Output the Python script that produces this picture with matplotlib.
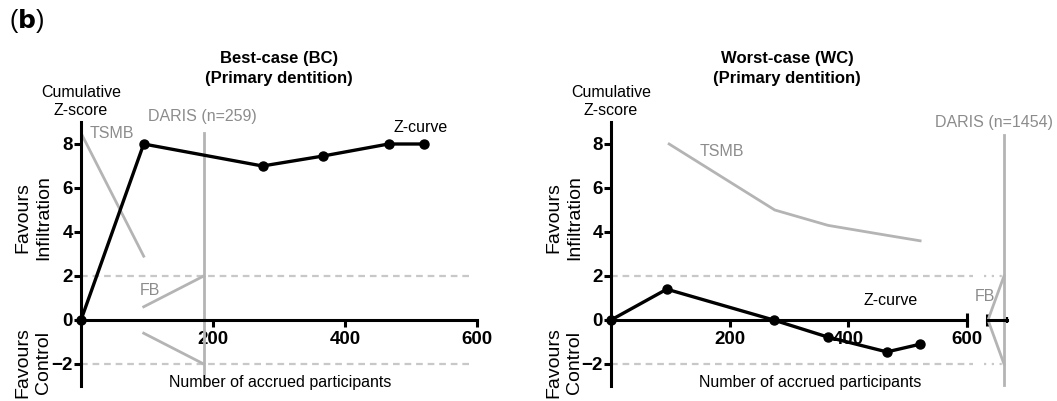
import numpy as np
import matplotlib
matplotlib.use("Agg")
import matplotlib.pyplot as plt

plt.rcParams['font.family'] = ['Liberation Sans', 'DejaVu Sans']

# ---- data ----
# Best-case (BC)
bc_z_x = [0, 95, 275, 366, 466, 520]
bc_z_y = [0, 8.0, 7.0, 7.45, 8.0, 8.0]
bc_tsmb_x = [0, 95]
bc_tsmb_y = [8.5, 2.9]
bc_fb_x = [95, 186]
bc_fb_up = [0.6, 2.0]
bc_fb_lo = [-0.6, -2.0]
bc_daris = 186

# Worst-case (WC)
wc_z_x = [0, 94, 274, 366, 465, 521]
wc_z_y = [0, 1.4, 0.0, -0.78, -1.45, -1.1]
wc_tsmb_x = [98, 276, 366, 465, 521]
wc_tsmb_y = [8.0, 5.0, 4.3, 3.85, 3.6]
wc_fb_x = [1422, 1454]
wc_fb_up = [0.0, 2.0]
wc_fb_lo = [0.0, -2.0]
wc_daris = 1454

xticks = [200, 400, 600]
yticks = [-2, 0, 2, 4, 6, 8]

W, H = 1057, 401
fig = plt.figure(figsize=(W / 100, H / 100), dpi=100)

GRAY = '#b4b4b4'
TGRAY = '#8c8c8c'
DASH = '#c8c8c8'
FS = 11.5      # normal annotation text
TICK_FS = 13.5


def px_axes(x0, x1, y0, y1):
    # pixel box (top-left origin) -> figure axes
    return fig.add_axes([x0 / W, 1 - y1 / H, (x1 - x0) / W, (y1 - y0) / H])


def style(ax, xmax):
    ax.set_xlim(0, xmax)
    ax.set_ylim(-3, 9)
    for s in ['top', 'right']:
        ax.spines[s].set_visible(False)
    ax.spines['bottom'].set_position(('data', 0))
    for s in ['left', 'bottom']:
        ax.spines[s].set_linewidth(2.2)
    ax.set_xticks(xticks)
    ax.set_yticks(yticks)
    ax.tick_params(axis='both', width=2.2, length=5, labelsize=TICK_FS)
    ax.tick_params(axis='x', pad=3)
    ax.tick_params(axis='y', pad=1)
    for t in ax.get_xticklabels() + ax.get_yticklabels():
        t.set_fontweight('bold')
    ax.patch.set_visible(False)
    ax.text(0, 1.015, 'Cumulative\nZ-score', transform=ax.transAxes,
            ha='center', va='bottom', fontsize=FS, linespacing=1.25)


def side_labels(xc):
    fig.text(xc / W, 1 - 218 / H, 'Favours\nInfiltration', rotation=90,
             ha='center', va='center', fontsize=14, linespacing=1.3)
    fig.text(xc / W, 1 - 363 / H, 'Favours\nControl', rotation=90,
             ha='center', va='center', fontsize=14, linespacing=1.3)


def titles(xc, first):
    fig.text(xc / W, 1 - 58 / H, first, ha='center', va='center',
             fontsize=12, fontweight='bold')
    fig.text(xc / W, 1 - 78 / H, '(Primary dentition)', ha='center', va='center',
             fontsize=12, fontweight='bold')


fig.text(9 / W, 1 - 21 / H, r'($\mathbf{b}$)', fontsize=18, va='center')

# ---------------- left panel ----------------
ax1 = px_axes(81, 477, 122, 386)
style(ax1, 600)
ax1.plot([0, 590], [2, 2], ls=(0, (3, 2.2)), color=DASH, lw=1.6, zorder=1)
ax1.plot([0, 590], [-2, -2], ls=(0, (3, 2.2)), color=DASH, lw=1.6, zorder=1)
ax1.plot(bc_tsmb_x, bc_tsmb_y, color=GRAY, lw=2)
ax1.plot(bc_fb_x, bc_fb_up, color=GRAY, lw=2)
ax1.plot(bc_fb_x, bc_fb_lo, color=GRAY, lw=2)
ax1.plot([bc_daris, bc_daris], [-3, 8.5], color=GRAY, lw=2)
ax1.plot(bc_z_x, bc_z_y, color='black', lw=2.4, marker='o', ms=6.5, clip_on=False, zorder=5)
ax1.text(13, 8.5, 'TSMB', color=TGRAY, fontsize=FS, va='center')
ax1.text(101, 9.23, 'DARIS (n=259)', color=TGRAY, fontsize=FS, va='center')
ax1.text(89, 1.36, 'FB', color=TGRAY, fontsize=FS, va='center')
ax1.text(515, 8.73, 'Z-curve', color='black', fontsize=FS, va='center', ha='center')
fig.text(280 / W, 1 - 383 / H, 'Number of accrued participants', fontsize=FS,
         ha='center', va='center')
titles(279, 'Best-case (BC)')
side_labels(33)

# ---------------- right panel ----------------
ax2 = px_axes(611, 967, 122, 386)
style(ax2, 600)
ax2.plot([0, 610], [2, 2], ls=(0, (3, 2.2)), color=DASH, lw=1.6, zorder=1, clip_on=False)
ax2.plot([0, 610], [-2, -2], ls=(0, (3, 2.2)), color=DASH, lw=1.6, zorder=1, clip_on=False)
ax2.plot(wc_tsmb_x, wc_tsmb_y, color=GRAY, lw=2)
ax2.plot(wc_z_x, wc_z_y, color='black', lw=2.4, marker='o', ms=6.5, clip_on=False, zorder=5)
ax2.plot([600], [0], marker='|', ms=10, mew=2.2, color='black', clip_on=False)
ax2.text(150, 7.64, 'TSMB', color=TGRAY, fontsize=FS, va='center')
ax2.text(472, 0.9, 'Z-curve', color='black', fontsize=FS, va='center', ha='center')
fig.text(810 / W, 1 - 383 / H, 'Number of accrued participants', fontsize=FS,
         ha='center', va='center')
titles(787, 'Worst-case (WC)')
side_labels(564)

# broken-axis segment around DARIS
ax3 = px_axes(987, 1007, 122, 386)
ax3.set_xlim(1420, 1460)
ax3.set_ylim(-3, 9)
ax3.patch.set_visible(False)
for s in ['top', 'right', 'left']:
    ax3.spines[s].set_visible(False)
ax3.spines['bottom'].set_position(('data', 0))
ax3.spines['bottom'].set_linewidth(2.2)
ax3.set_xticks([])
ax3.set_yticks([])
ax3.plot([1420], [0], marker='|', ms=9, mew=2.2, color='black', clip_on=False)
ax3.plot([1460], [0], marker='|', ms=5, mew=1.6, color='black', clip_on=False)
ax3.plot([1414, 1454], [2, 2], ls=(0, (1, 2.5)), color=DASH, lw=1.6, zorder=1, clip_on=False)
ax3.plot([1414, 1454], [-2, -2], ls=(0, (1, 2.5)), color=DASH, lw=1.6, zorder=1, clip_on=False)
ax3.plot(wc_fb_x, wc_fb_up, color=GRAY, lw=2, clip_on=False)
ax3.plot(wc_fb_x, wc_fb_lo, color=GRAY, lw=2, clip_on=False)
ax3.plot([wc_daris, wc_daris], [-2.95, 8.4], color=GRAY, lw=2, clip_on=False)
ax3.text(1434, 9.0, 'DARIS (n=1454)', color=TGRAY, fontsize=FS, va='center', ha='center')
ax3.text(1416, 1.05, 'FB', color=TGRAY, fontsize=FS, va='center', ha='center')

fig.savefig('out.png', dpi=100)
